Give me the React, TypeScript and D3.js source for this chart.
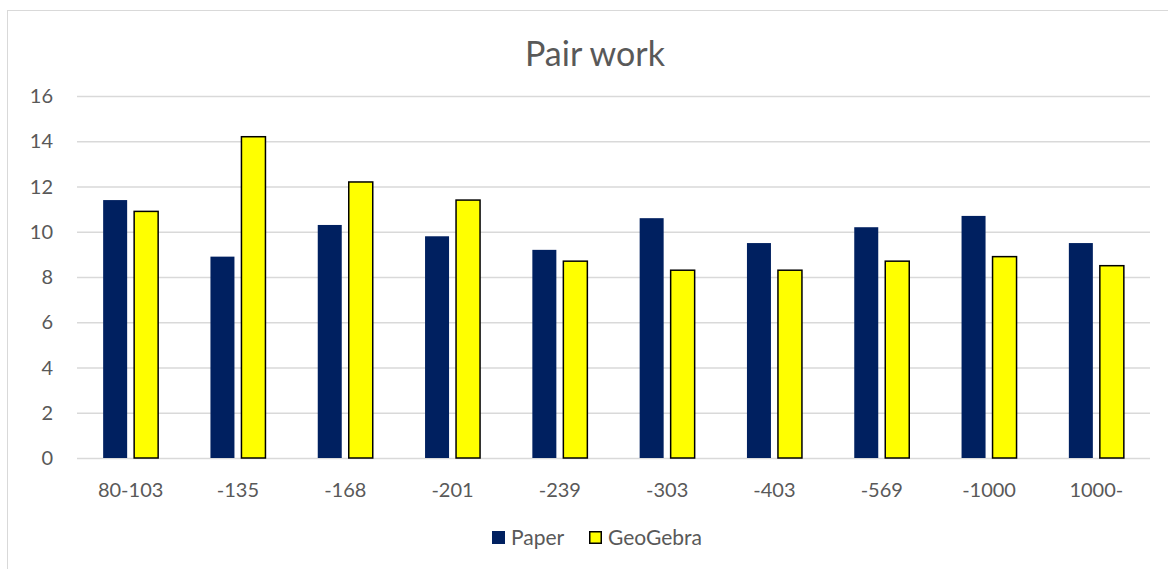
import * as d3 from "d3";
import { useEffect, useRef } from "react";

const categories = ["80-103", "-135", "-168", "-201", "-239", "-303", "-403", "-569", "-1000", "1000-"];
const paper = [11.4, 8.9, 10.3, 9.8, 9.2, 10.6, 9.5, 10.2, 10.7, 9.5];
const geogebra = [10.9, 14.2, 12.2, 11.4, 8.7, 8.3, 8.3, 8.7, 8.9, 8.5];
const yTicks = [0, 2, 4, 6, 8, 10, 12, 14, 16];
const seriesNames = ["Paper", "GeoGebra"];

const width = 1168;
const height = 569;
const font = "Lato, 'Open Sans', sans-serif";

export default function App() {
  const svgRef = useRef<SVGSVGElement | null>(null);

  useEffect(() => {
    if (!svgRef.current) return;
    const svg = d3.select(svgRef.current);
    svg.selectAll("*").remove();

    const left = 77;
    const right = 1150;
    const top = 96;
    const bottom = 458;

    // chart border
    svg
      .append("rect")
      .attr("x", 7.5)
      .attr("y", 10.5)
      .attr("width", width)
      .attr("height", height)
      .attr("fill", "#fff")
      .attr("stroke", "#d9d9d9");

    const x = d3.scaleBand().domain(categories).range([left, right]);
    const y = d3.scaleLinear().domain([0, 16]).range([bottom, top]);

    const barW = 24;
    const gap = 7;

    // gridlines
    svg
      .append("g")
      .selectAll("line")
      .data(yTicks)
      .join("line")
      .attr("x1", left)
      .attr("x2", right)
      .attr("y1", (d) => y(d) + 0.5)
      .attr("y2", (d) => y(d) + 0.5)
      .attr("stroke", "#d9d9d9")
      .attr("stroke-width", 1.3);

    // y labels
    svg
      .append("g")
      .selectAll("text")
      .data(yTicks)
      .join("text")
      .attr("x", 53)
      .attr("y", (d) => y(d))
      .attr("dy", "0.36em")
      .attr("text-anchor", "end")
      .attr("font-family", font)
      .attr("font-size", 20)
      .attr("fill", "#595959")
      .text((d) => d);

    // x labels
    svg
      .append("g")
      .selectAll("text")
      .data(categories)
      .join("text")
      .attr("x", (d) => x(d)! + x.bandwidth() / 2)
      .attr("y", 497)
      .attr("text-anchor", "middle")
      .attr("font-family", font)
      .attr("font-size", 20)
      .attr("fill", "#595959")
      .text((d) => d);

    // Paper bars
    svg
      .append("g")
      .selectAll("rect")
      .data(paper)
      .join("rect")
      .attr("x", (d, i) => x(categories[i])! + x.bandwidth() / 2 - gap / 2 - barW)
      .attr("y", (d) => y(d))
      .attr("width", barW)
      .attr("height", (d) => bottom - y(d))
      .attr("fill", "#002060");

    // GeoGebra bars
    svg
      .append("g")
      .selectAll("rect")
      .data(geogebra)
      .join("rect")
      .attr("x", (d, i) => x(categories[i])! + x.bandwidth() / 2 + gap / 2)
      .attr("y", (d) => y(d))
      .attr("width", barW)
      .attr("height", (d) => bottom - y(d))
      .attr("fill", "#ffff00")
      .attr("stroke", "#000")
      .attr("stroke-width", 1.5);

    // title
    svg
      .append("text")
      .attr("x", 595)
      .attr("y", 66)
      .attr("text-anchor", "middle")
      .attr("font-family", font)
      .attr("font-size", 34)
      .attr("fill", "#595959")
      .text("Pair work");

    // legend
    const legend = svg.append("g");
    const lx = [492, 589];
    seriesNames.forEach((name, i) => {
      legend
        .append("rect")
        .attr("x", lx[i] + (i ? 0.75 : 0))
        .attr("y", 531 + (i ? 0.75 : 0))
        .attr("width", i ? 11.5 : 13)
        .attr("height", i ? 11.5 : 13)
        .attr("fill", i ? "#ffff00" : "#002060")
        .attr("stroke", i ? "#000" : "none")
        .attr("stroke-width", 1.5);
      legend
        .append("text")
        .attr("x", lx[i] + 19)
        .attr("y", 545)
        .attr("font-family", font)
        .attr("font-size", 21)
        .attr("fill", "#595959")
        .text(name);
    });
  }, []);

  return (
    <svg
      ref={svgRef}
      width={width}
      height={height}
      style={{ position: "absolute", left: 0, top: 0 }}
    ></svg>
  );
}
